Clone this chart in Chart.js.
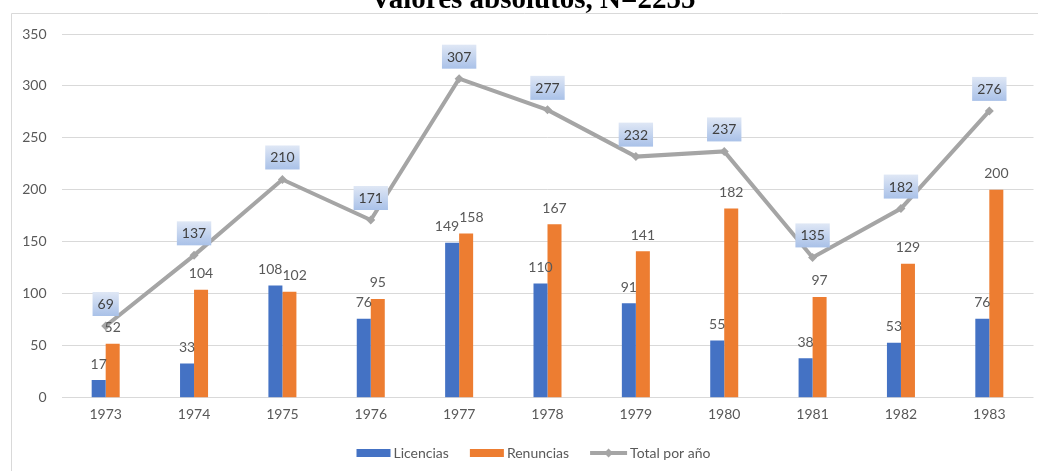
<!DOCTYPE html>
<html lang="es">
<head>
<meta charset="utf-8">
<title>Valores absolutos</title>
<script src="https://cdn.jsdelivr.net/npm/chart.js@4.4.1/dist/chart.umd.min.js"></script>
<style>
  html, body { margin: 0; padding: 0; background: #fff; overflow: hidden; }
  #caja { position: relative; width: 1038px; height: 471px; }
</style>
</head>
<body>
<div id="caja"><canvas id="grafico" width="1038" height="471"></canvas></div>
<script>
// Datos del grafico
const anios = ['1973', '1974', '1975', '1976', '1977', '1978', '1979', '1980', '1981', '1982', '1983'];
const licencias = [17, 33, 108, 76, 149, 110, 91, 55, 38, 53, 76];
const renuncias = [52, 104, 102, 95, 158, 167, 141, 182, 97, 129, 200];
const totales = [69, 137, 210, 171, 307, 277, 232, 237, 135, 182, 276];
const ticksY = [0, 50, 100, 150, 200, 250, 300, 350];
const nombres = ['Licencias', 'Renuncias', 'Total por año'];
const titulo = 'Valores absolutos, N=2255';

const colores = ['#4472C4', '#ED7D31', '#A5A5A5'];
const fuente = 'Lato, "Open Sans", sans-serif';
const gris = '#595959';

// marco, titulo, etiquetas y leyenda
const decoracion = {
  id: 'decoracion',
  beforeDraw(chart) {
    const ctx = chart.ctx;
    ctx.save();
    ctx.fillStyle = '#fff';
    ctx.fillRect(0, 0, chart.width, chart.height);
    ctx.strokeStyle = '#d9d9d9';
    ctx.lineWidth = 1;
    ctx.beginPath();
    ctx.moveTo(11.5, chart.height);
    ctx.lineTo(11.5, 13.5);
    ctx.lineTo(chart.width, 13.5);
    ctx.stroke();
    ctx.font = 'bold 29px "Liberation Serif", "Times New Roman", serif';
    ctx.fillStyle = '#000';
    ctx.textAlign = 'center';
    ctx.textBaseline = 'alphabetic';
    ctx.fillText(titulo, 533, 7.5);
    ctx.restore();
  },
  afterDatasetsDraw(chart) {
    const ctx = chart.ctx;
    const azul = chart.getDatasetMeta(0).data;
    const naranja = chart.getDatasetMeta(1).data;
    ctx.save();
    ctx.font = '14px ' + fuente;
    ctx.fillStyle = gris;
    ctx.textBaseline = 'middle';

    azul.forEach((barraA, i) => {
      const barraN = naranja[i];
      const yA = barraA.y - 16;
      const yN = barraN.y - 16;
      const tA = String(licencias[i]);
      const tN = String(renuncias[i]);
      const wA = ctx.measureText(tA).width;
      const wN = ctx.measureText(tN).width;
      const choque = Math.abs(yA - yN) < 16 && (wA + wN) / 2 > barraN.x - barraA.x;
      if (choque) {
        const borde = (barraA.x + barraN.x) / 2;
        ctx.textAlign = 'right';
        ctx.fillText(tA, borde, yA);
        ctx.textAlign = 'left';
        ctx.fillText(tN, borde, yN);
      } else {
        ctx.textAlign = 'center';
        ctx.fillText(tA, barraA.x, yA);
        ctx.fillText(tN, barraN.x, yN);
      }
    });

    // cajas de la linea de totales
    chart.getDatasetMeta(2).data.forEach((p, i) => {
      const t = String(totales[i]);
      const w = ctx.measureText(t).width + 10;
      const h = 24;
      const cx = p.x;
      const cy = p.y - 22;
      const grad = ctx.createLinearGradient(0, cy - h / 2, 0, cy + h / 2);
      grad.addColorStop(0, '#dfe7f5');
      grad.addColorStop(1, '#a9c1e8');
      ctx.fillStyle = grad;
      ctx.fillRect(cx - w / 2, cy - h / 2, w, h);
      ctx.fillStyle = '#404040';
      ctx.textAlign = 'center';
      ctx.fillText(t, cx, cy + 0.5);
    });
    ctx.restore();
  },
  afterDraw(chart) {
    const ctx = chart.ctx;
    ctx.save();
    ctx.font = '14px ' + fuente;
    ctx.textBaseline = 'middle';
    ctx.textAlign = 'left';
    const yL = 453;
    const muestra = [34, 34, 37];
    const anchos = nombres.map(n => ctx.measureText(n).width);
    let total = 21 * 2;
    nombres.forEach((n, k) => { total += muestra[k] + 3 + anchos[k]; });
    let x = 533.5 - total / 2;
    nombres.forEach((n, k) => {
      if (k < 2) {
        ctx.fillStyle = colores[k];
        ctx.fillRect(x, yL - 4, muestra[k], 8);
      } else {
        ctx.strokeStyle = colores[k];
        ctx.lineWidth = 4;
        ctx.beginPath();
        ctx.moveTo(x, yL);
        ctx.lineTo(x + muestra[k], yL);
        ctx.stroke();
        const m = x + muestra[k] / 2;
        ctx.fillStyle = colores[k];
        ctx.beginPath();
        ctx.moveTo(m, yL - 4.5);
        ctx.lineTo(m + 4.5, yL);
        ctx.lineTo(m, yL + 4.5);
        ctx.lineTo(m - 4.5, yL);
        ctx.closePath();
        ctx.fill();
      }
      ctx.fillStyle = gris;
      ctx.fillText(n, x + muestra[k] + 3, yL);
      x += muestra[k] + 3 + anchos[k] + 21;
    });
    ctx.restore();
  }
};

function crear() {
  new Chart(document.getElementById('grafico'), {
    type: 'bar',
    data: {
      labels: anios,
      datasets: [
        {
          label: nombres[0],
          data: licencias,
          backgroundColor: colores[0],
          categoryPercentage: 0.317,
          barPercentage: 1,
          order: 1
        },
        {
          label: nombres[1],
          data: renuncias,
          backgroundColor: colores[1],
          categoryPercentage: 0.317,
          barPercentage: 1,
          order: 1
        },
        {
          type: 'line',
          label: nombres[2],
          data: totales,
          borderColor: colores[2],
          backgroundColor: colores[2],
          borderWidth: 4,
          tension: 0,
          pointStyle: 'rectRot',
          pointRadius: 4.5,
          pointBorderWidth: 0,
          pointBackgroundColor: colores[2],
          order: 0
        }
      ]
    },
    options: {
      responsive: false,
      animation: false,
      layout: { padding: { left: 0, right: 3.8, top: 34, bottom: 0 } },
      plugins: {
        legend: { display: false },
        tooltip: { enabled: false },
        title: { display: false }
      },
      scales: {
        x: {
          grid: { display: false, drawTicks: false },
          border: { display: false },
          ticks: { color: gris, font: { family: fuente, size: 14 }, padding: 8 },
          afterFit(s) { s.height = 73.3; }
        },
        y: {
          min: 0,
          max: 350,
          afterBuildTicks(s) { s.ticks = ticksY.map(v => ({ value: v })); },
          grid: { color: '#d9d9d9', drawTicks: false },
          border: { display: false },
          ticks: { color: gris, font: { family: fuente, size: 14 }, padding: 15 },
          afterFit(s) { s.width = 61.5; }
        }
      }
    },
    plugins: [decoracion]
  });
}

document.fonts.load('14px Lato').then(crear, crear);
</script>
</body>
</html>
